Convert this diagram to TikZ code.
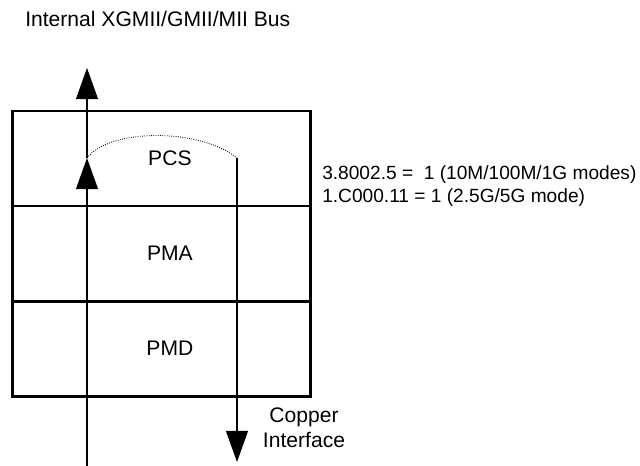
\documentclass[tikz,border=0pt]{standalone}
\usepackage{fontspec}
\setmainfont{Liberation Sans}
\usepackage{tikz}
\usetikzlibrary{arrows.meta}
\tikzstyle{layer} = [rectangle, draw, line width=2.1pt, minimum width=7.425cm, minimum height=2.375cm, inner sep=0pt, font=\fontsize{15}{18}\selectfont]
\tikzstyle{flow} = [line width=0.9pt, -{Triangle[width=0.55cm, length=0.78cm]}]

\begin{document}
\begin{tikzpicture}[x=0.025cm, y=-0.025cm, node distance=2.375cm, font=\fontsize{15}{18}\selectfont]
  \useasboundingbox (0,0) rectangle (640,466);
  \node (title) [anchor=base west, inner sep=0pt] at (25,27) {Internal XGMII/GMII/MII Bus};
  \node (pcs) [layer] at (161.5,158.5) {\hspace{0.42cm}PCS};
  \node (pma) [layer, below of=pcs] {\hspace{0.42cm}PMA};
  \node (pmd) [layer, below of=pma] {\hspace{0.42cm}PMD};
  \node (modes) [anchor=base west, inner sep=0pt, align=left, font=\fontsize{13.6}{17}\selectfont] at (322,203) {3.8002.5 = \ 1 (10M/100M/1G modes)\\1.C000.11 = 1 (2.5G/5G mode)};
  \node (copper) [align=center, inner sep=0pt, font=\fontsize{15}{17.7}\selectfont] at (304,428) {Copper\\Interface};

  \coordinate (phyin) at (87,466);
  \coordinate (pcsup) at (87,158);
  \coordinate (busout) at (87,68);
  \coordinate (pcsdown) at (237,158);
  \coordinate (wire) at (237,462);

  \draw[flow] (phyin) -- (pcsup);
  \draw[flow] (pcsup) -- (busout);
  \draw[densely dotted, line width=0.6pt] (pcsup) .. controls (110,128) and (200,128) .. (pcsdown);
  \draw[flow] (pcsdown) -- (wire);
\end{tikzpicture}
\end{document}
